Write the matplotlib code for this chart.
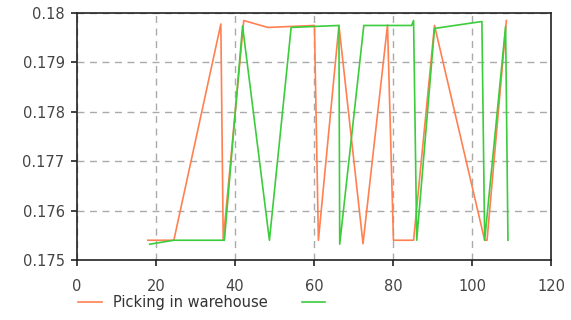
"""
Picking in warehouse - line chart
"""

import matplotlib
matplotlib.use("Agg")
import matplotlib.pyplot as plt
from matplotlib.ticker import FormatStrFormatter

# Orange series (Picking in warehouse)
picking_x = [17.9, 24.5, 36.4, 37.0, 42.2, 48.3, 60.1, 61.1, 66.3, 72.4,
             78.6, 80.1, 85.2, 90.5, 103.2, 103.8, 108.7]
picking_y = [0.17540, 0.17540, 0.17978, 0.17540, 0.17985, 0.17971, 0.17975,
             0.17540, 0.17975, 0.17533, 0.17976, 0.17540, 0.17540, 0.17975,
             0.17540, 0.17540, 0.17985]

# Green series (unnamed)
other_x = [18.4, 24.5, 37.3, 41.9, 48.7, 54.2, 66.3, 66.5, 72.6, 84.7,
           85.2, 86.0, 90.5, 102.5, 103.2, 108.5, 109.1]
other_y = [0.17532, 0.17540, 0.17540, 0.17974, 0.17540, 0.17971, 0.17975,
           0.17532, 0.17975, 0.17975, 0.17985, 0.17540, 0.17969, 0.17983,
           0.17540, 0.17973, 0.17540]

series_labels = ["Picking in warehouse", " "]
x_ticks = [0, 20, 40, 60, 80, 100, 120]
y_ticks = [0.175, 0.176, 0.177, 0.178, 0.179, 0.18]

plt.rcParams["font.family"] = ["DejaVu Sans"]
plt.rcParams["font.size"] = 10

fig = plt.figure(figsize=(5.71, 3.2), dpi=100)
ax = fig.add_axes([0.135, 0.1875, 0.83, 0.7715])

ax.plot(picking_x, picking_y, color="#FF8050", linewidth=1.2, label=series_labels[0])
ax.plot(other_x, other_y, color="#3CCC3C", linewidth=1.2, label=series_labels[1])

ax.set_xlim(0, 120)
ax.set_ylim(0.175, 0.18)
ax.set_xticks(x_ticks)
ax.set_yticks(y_ticks)
ax.yaxis.set_major_formatter(FormatStrFormatter("%g"))
ax.grid(True, color="#AAAAAA", linestyle=(0, (5, 4)), linewidth=1.0)

for s in ax.spines.values():
    s.set_color("#222222")
    s.set_linewidth(1.2)
ax.tick_params(direction="out", length=4, width=1.2, color="#222222",
               labelcolor="#444444", labelsize=10.5, pad=5)
ax.tick_params(axis="x", pad=10)

ax.legend(loc="upper left", bbox_to_anchor=(-0.025, -0.09), ncol=2, frameon=False,
          fontsize=10.5, handlelength=1.6, columnspacing=2.3,
          labelcolor="#333333")

fig.savefig("out.png", dpi=100)
